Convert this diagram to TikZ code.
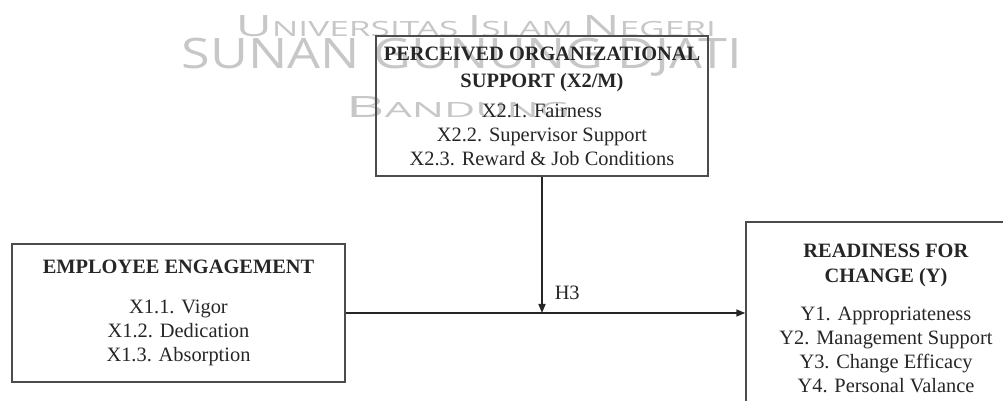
\documentclass[tikz,border=0pt]{standalone}
\usepackage{fontspec}
\setmainfont{Liberation Serif}
\newfontfamily\wmfont{Open Sans}
\usetikzlibrary{arrows.meta}

\begin{document}
\begin{tikzpicture}[x=0.5pt,y=-0.5pt]

\def\wmcol{black!22}
\def\tipl{4.5pt}
\def\tipw{3.5pt}

\tikzset{box/.style = {draw=black!70, line width=0.75pt, align=center, inner sep=0pt, text=black!85, font=\fontsize{10.2}{12}\selectfont}}
\tikzset{link/.style = {draw=black!85, line width=0.75pt, -{Triangle[length=\tipl,width=\tipw]}}}
\tikzset{wmtext/.style = {text=\wmcol, inner sep=0pt, font=\wmfont}}

\useasboundingbox (0,0) rectangle (1003,401);
\clip (0,0) rectangle (1003,401);

% watermark
\node[wmtext] (wm1) at (476,26) {\resizebox{240pt}{\height}{{\fontsize{14.7}{15}\selectfont U}{\fontsize{10.5}{15}\selectfont NIVERSITAS }{\fontsize{14.7}{15}\selectfont I}{\fontsize{10.5}{15}\selectfont SLAM }{\fontsize{14.7}{15}\selectfont N}{\fontsize{10.5}{15}\selectfont EGERI}}};
\node[wmtext] (wm2) at (462,57) {\resizebox{280pt}{\height}{\fontsize{21}{21}\selectfont SUNAN GUNUNG DJATI}};
\node[wmtext] (wm3) at (458,107) {\resizebox{112pt}{\height}{{\fontsize{14.7}{15}\selectfont B}{\fontsize{10.5}{15}\selectfont ANDUNG}}};

% boxes
\node[box, minimum width=332*0.5pt, minimum height=140*0.5pt] (support) at (542,106)
  {\textbf{PERCEIVED ORGANIZATIONAL}\\[1.5pt] \textbf{SUPPORT (X2/M)}\\[3pt]
   X2.1. Fairness\\ X2.2. Supervisor Support\\ X2.3. Reward \& Job Conditions};

\node[box, minimum width=333*0.5pt, minimum height=138*0.5pt] (engage) at (178.5,313)
  {\textbf{EMPLOYEE ENGAGEMENT}\\[8pt]
   X1.1. Vigor\\ X1.2. Dedication\\ X1.3. Absorption};

% right box runs past the page edge
\node[box, minimum width=320*0.5pt, minimum height=192*0.5pt] (ready) at (906,318) {};
\node[box, draw=none] (readytxt) at (886,318)
  {\textbf{READINESS FOR}\\[0.5pt] \textbf{CHANGE (Y)}\\[7pt]
   Y1. Appropriateness\\ Y2. Management Support\\ Y3. Change Efficacy\\ Y4. Personal Valance};

% links
\draw[link] (engage.east) -- (engage.east -| ready.west);
\draw[link] (support) -- (support |- engage.east)
  node[pos=1, anchor=south west, inner sep=0pt, xshift=6pt, yshift=6.5pt, text=black!85, font=\fontsize{10.2}{12}\selectfont] (h3) {H3};

\end{tikzpicture}
\end{document}
